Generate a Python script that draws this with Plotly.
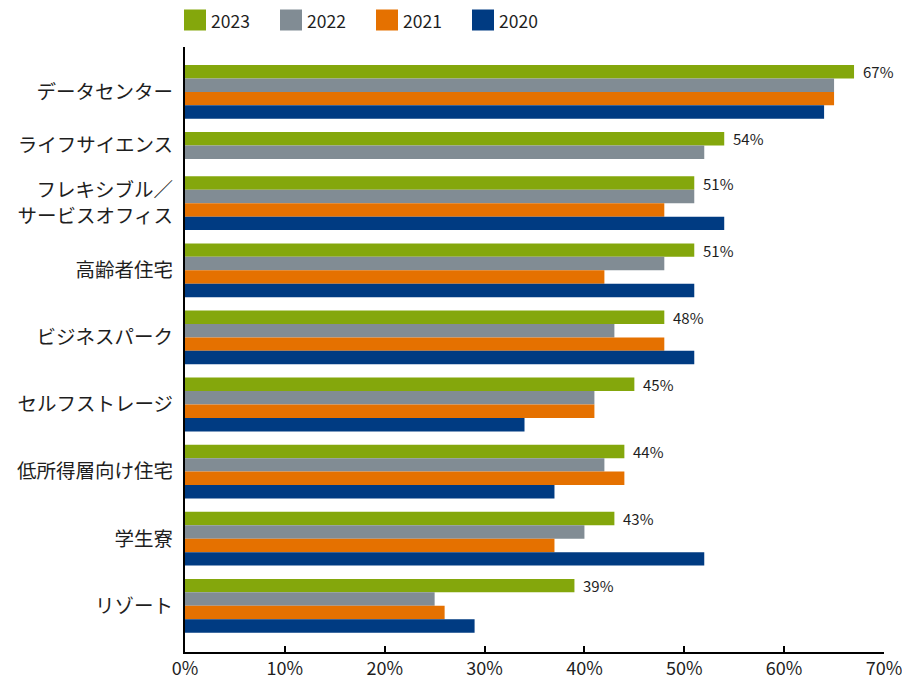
import plotly.graph_objects as go

categories = ["データセンター", "ライフサイエンス", "フレキシブル／<br>サービスオフィス", "高齢者住宅",
              "ビジネスパーク", "セルフストレージ", "低所得層向け住宅", "学生寮", "リゾート"]
series_names = ["2023", "2022", "2021", "2020"]
v2023 = [67, 54, 51, 51, 48, 45, 44, 43, 39]
v2022 = [65, 52, 51, 48, 43, 41, 42, 40, 25]
v2021 = [65, None, 48, 42, 48, 41, 44, 37, 26]
v2020 = [64, None, 54, 51, 51, 34, 37, 52, 29]
x_ticks = [0, 10, 20, 30, 40, 50, 60, 70]

colors = ["#84a70c", "#818c94", "#e57100", "#003b82"]
FONT = "Noto Sans CJK JP"
TXT = "#1e1e1e"

W, H = 902, 682
ML, MR, MT, MB = 185, 18, 47, 30
PH = H - MT - MB
PW = W - ML - MR
BAR = 13.45
GAP = 13.3
TOP_PAD = 18

values = [v2023, v2022, v2021, v2020]

# layout of bar slots (pixel-like units on a reversed numeric y axis)
centers = [[None] * len(categories) for _ in series_names]
group_centers = []
cur = TOP_PAD
for ci in range(len(categories)):
    start = cur
    missing = 0
    for si in range(len(series_names)):
        v = values[si][ci]
        if v is None:
            missing += 1
            continue
        centers[si][ci] = cur + BAR / 2
        cur += BAR
    group_centers.append((start + cur) / 2)
    cur += GAP + (4 if missing else 0)

fig = go.Figure()
for si, name in enumerate(series_names):
    xs = [v for v in values[si] if v is not None]
    ys = [centers[si][ci] for ci in range(len(categories)) if values[si][ci] is not None]
    fig.add_trace(go.Bar(x=xs, y=ys, orientation="h", width=BAR, name=name,
                         marker=dict(color=colors[si], line=dict(width=0)),
                         showlegend=False, hoverinfo="x+name"))

annotations = []
for ci, v in enumerate(v2023):
    annotations.append(dict(x=v, y=centers[0][ci], xref="x", yref="y", text=f"{v}%",
                            showarrow=False, xanchor="left", yanchor="middle", xshift=7,
                            font=dict(family=FONT, size=15, color=TXT)))

# legend drawn in pixel positions
shapes = []
leg_x0 = 184
leg_step = 96
sq = 22
leg_cy = 20
for si, name in enumerate(series_names):
    px0 = leg_x0 + si * leg_step
    shapes.append(dict(type="rect", xref="paper", yref="paper",
                       x0=(px0 - ML) / PW, x1=(px0 + sq - ML) / PW,
                       y0=(H - MB - (leg_cy + 10.5)) / PH, y1=(H - MB - (leg_cy - 10.5)) / PH,
                       fillcolor=colors[si], line=dict(width=0)))
    annotations.append(dict(x=(px0 + sq + 3 - ML) / PW, y=(H - MB - leg_cy) / PH,
                            xref="paper", yref="paper", text=name, showarrow=False,
                            xanchor="left", yanchor="middle",
                            font=dict(family=FONT, size=17.5, color=TXT)))

fig.update_layout(
    width=W, height=H,
    margin=dict(l=ML, r=MR, t=MT, b=MB, autoexpand=False),
    paper_bgcolor="white", plot_bgcolor="white",
    barmode="overlay",
    font=dict(family=FONT, color=TXT),
    shapes=shapes, annotations=annotations,
    showlegend=False,
)
fig.update_xaxes(range=[0, 70], tickvals=x_ticks, ticktext=[f"{t}%" for t in x_ticks],
                 ticks="inside", ticklen=6, tickwidth=1.5, tickcolor="black",
                 showline=True, linecolor="black", linewidth=1.5,
                 showgrid=False, zeroline=False, ticklabelstandoff=0,
                 ticklabeloverflow="allow", automargin=False,
                 tickfont=dict(family=FONT, size=18, color=TXT))
fig.update_yaxes(range=[PH, 0], tickvals=group_centers, ticktext=categories,
                 ticks="outside", ticklen=6, tickcolor="rgba(0,0,0,0)",
                 showline=True, linecolor="black", linewidth=2,
                 showgrid=False, zeroline=False, automargin=False,
                 tickfont=dict(family=FONT, size=19.5, color=TXT))

fig.write_html("out.html", config={"displayModeBar": False},
               post_script="document.body.style.margin='0';document.body.style.padding='0';")
